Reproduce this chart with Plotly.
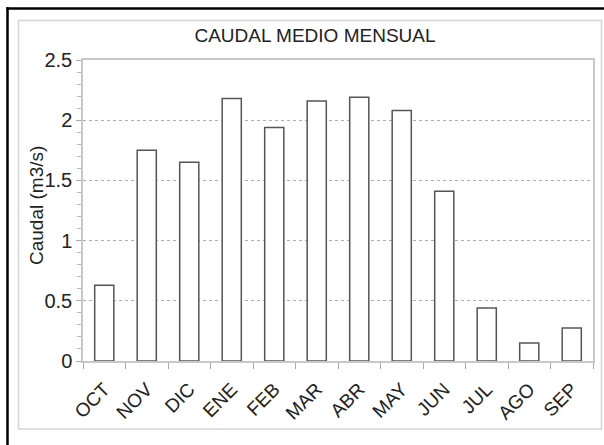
import plotly.graph_objects as go

months = ["OCT", "NOV", "DIC", "ENE", "FEB", "MAR", "ABR", "MAY", "JUN", "JUL", "AGO", "SEP"]
caudal = [0.63, 1.75, 1.65, 2.18, 1.94, 2.16, 2.19, 2.08, 1.41, 0.44, 0.15, 0.275]
y_ticks = [0, 0.5, 1, 1.5, 2, 2.5]
y_tick_labels = ["0", "0.5", "1", "1.5", "2", "2.5"]

W, H = 604, 445
L, R, T, B = 83, 593, 60, 361
pw, ph = R - L, B - T


def px(x):
    return (x - L) / pw


def py(y):
    return (B - y) / ph


FONT = "Liberation Sans, Arial, sans-serif"

fig = go.Figure(
    go.Bar(
        x=months,
        y=caudal,
        marker=dict(color="white", line=dict(color="#555555", width=1.5)),
        width=0.45,
    )
)

fig.update_layout(
    width=W,
    height=H,
    margin=dict(l=L, r=W - R, t=T, b=H - B, autoexpand=False),
    paper_bgcolor="white",
    plot_bgcolor="white",
    showlegend=False,
    font=dict(family=FONT, size=17, color="#222222"),
    title=dict(
        text="CAUDAL MEDIO MENSUAL",
        x=315 / W,
        xanchor="center",
        y=1 - 35 / H,
        yanchor="middle",
        yref="container",
        font=dict(family=FONT, size=19, color="#222222"),
    ),
    xaxis=dict(
        type="category",
        automargin=False,
        tickangle=-45,
        tickson="boundaries",
        ticks="outside",
        ticklen=6,
        tickcolor="#aaaaaa",
        ticklabelstandoff=8,
        showline=True,
        linecolor="#c8c8c8",
        linewidth=1.5,
        mirror=True,
        showgrid=False,
        tickfont=dict(family=FONT, size=19, color="#222222"),
        range=[-0.5, 11.5],
    ),
    yaxis=dict(
        automargin=False,
        range=[0, 2.5],
        tickvals=y_ticks,
        ticktext=y_tick_labels,
        ticks="outside",
        ticklen=5,
        tickcolor="#aaaaaa",
        showline=True,
        linecolor="#c8c8c8",
        linewidth=1.5,
        mirror=True,
        showgrid=True,
        gridcolor="#b0b0b0",
        griddash="dot",
        gridwidth=1,
        zeroline=False,
        tickfont=dict(family=FONT, size=20, color="#222222"),
        minor=dict(dtick=0.1, ticks="outside", ticklen=4, tickcolor="#bbbbbb", showgrid=False),
    ),
    annotations=[
        dict(
            text="Caudal (m3/s)",
            xref="paper",
            yref="paper",
            x=px(36),
            y=py(206),
            textangle=-90,
            showarrow=False,
            xanchor="center",
            yanchor="middle",
            font=dict(family=FONT, size=19, color="#222222"),
        )
    ],
    shapes=[
        dict(
            type="rect",
            xref="paper",
            yref="paper",
            x0=px(18.5),
            x1=px(601.5),
            y0=py(429),
            y1=py(20.5),
            line=dict(color="#d4d4d4", width=1.5),
            layer="below",
        ),
        dict(
            type="line",
            xref="paper",
            yref="paper",
            x0=px(7.5),
            x1=px(7.5),
            y0=py(460),
            y1=py(7.3),
            line=dict(color="black", width=2.5),
            layer="below",
        ),
        dict(
            type="line",
            xref="paper",
            yref="paper",
            x0=px(6.3),
            x1=px(640),
            y0=py(8.5),
            y1=py(8.5),
            line=dict(color="black", width=2.5),
            layer="below",
        ),
    ],
)

fig.write_html(
    "out.html",
    config={"displayModeBar": False},
    post_script="document.body.style.margin='0';document.body.style.padding='0';",
)
